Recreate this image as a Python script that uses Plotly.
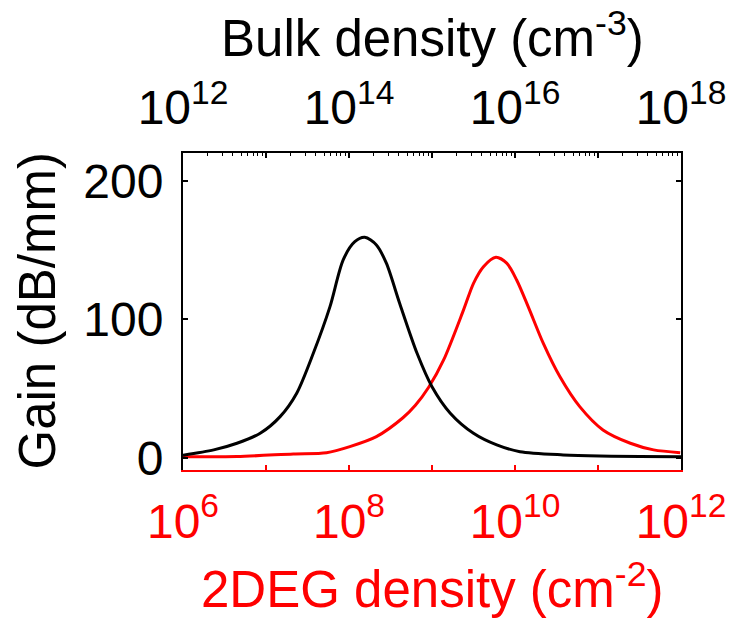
import plotly.graph_objects as go

# Gain of the bulk-doped structure vs. bulk carrier density (top axis)
bulk_log_density = [12.0, 12.37, 12.65, 12.93, 13.17, 13.37, 13.57, 13.77, 13.93,
                    14.07, 14.19, 14.33, 14.45, 14.61, 14.82, 15.0, 15.22, 15.5,
                    15.78, 16.06, 16.58, 17.02, 18.0]
bulk_gain = [2.0, 5.8, 10.6, 17.8, 29.8, 46.7, 75.5, 109, 142.9,
             156, 159.2, 153.7, 140.5, 111.6, 75.5, 51.4, 32.3, 17.8,
             9.4, 4.5, 2.2, 1.4, 0.9]

# Gain of the 2DEG structure vs. sheet carrier density (bottom axis)
sheet_log_density = [6.0, 6.65, 7.33, 7.73, 8.01, 8.33, 8.65, 8.8, 8.96, 9.14,
                     9.38, 9.5, 9.62, 9.77, 9.9, 10.02, 10.16, 10.34, 10.54,
                     10.78, 11.06, 11.39, 11.67, 11.99]
sheet_gain = [0.9, 1.0, 2.9, 3.8, 8.2, 15.4, 29.0, 38.0, 51.0, 70.7,
              106.8, 126, 138, 144.8, 140.5, 128.4, 109.0, 82.8, 58.7,
              37, 20.2, 10.6, 5.8, 3.8]

bottom_decades = [6, 7, 8, 9, 10, 11, 12]
top_decades = [12, 13, 14, 15, 16, 17, 18]
gain_ticks = [0, 100, 200]

FONT = "Liberation Sans, Arial, sans-serif"
RED = "#ff0000"


def decade_labels(decades):
    return [f"10<sup>{d}</sup>" if d % 2 == 0 else "" for d in decades]


fig = go.Figure()
fig.add_trace(go.Scatter(
    x=[10 ** v for v in sheet_log_density], y=sheet_gain,
    mode="lines", line=dict(color=RED, width=3, shape="spline", smoothing=0.8),
    xaxis="x", yaxis="y", showlegend=False))
fig.add_trace(go.Scatter(
    x=[10 ** v for v in bulk_log_density], y=bulk_gain,
    mode="lines", line=dict(color="black", width=3, shape="spline", smoothing=0.8),
    xaxis="x2", yaxis="y", showlegend=False))

fig.update_layout(
    width=740, height=624,
    margin=dict(l=183, r=59, t=153, b=154),
    paper_bgcolor="white", plot_bgcolor="white",
    font=dict(family=FONT, size=48, color="black"),
    xaxis=dict(
        type="log", range=[6, 12],
        tickmode="array",
        tickvals=[10 ** d for d in bottom_decades],
        ticktext=decade_labels(bottom_decades),
        ticks="inside", ticklen=5, tickwidth=1.5, tickcolor=RED,
        showline=True, linecolor=RED, linewidth=2,
        showgrid=False, zeroline=False,
        tickfont=dict(family=FONT, size=48, color=RED),
        ticklabelstandoff=8,
    ),
    xaxis2=dict(
        type="log", range=[12, 18], overlaying="x", side="top",
        tickmode="array",
        tickvals=[10 ** d for d in top_decades],
        ticktext=decade_labels(top_decades),
        ticks="inside", ticklen=5, tickwidth=1.5, tickcolor="black",
        minor=dict(ticks="inside", ticklen=3, tickwidth=1.2,
                   tickcolor="black", dtick="D1", showgrid=False),
        showline=True, linecolor="black", linewidth=2,
        showgrid=False, zeroline=False,
        tickfont=dict(family=FONT, size=48, color="black"),
        ticklabelstandoff=8,
    ),
    yaxis=dict(
        range=[-8.7, 220],
        tickmode="array", tickvals=gain_ticks,
        ticks="inside", ticklen=5, tickwidth=1.5, tickcolor="black",
        showline=True, linecolor="black", linewidth=2, mirror="ticks",
        showgrid=False, zeroline=False,
        tickfont=dict(family=FONT, size=48, color="black"),
        ticklabelstandoff=8,
    ),
    annotations=[
        dict(text="Bulk density (cm<sup>-3</sup>)", xref="paper", yref="paper",
             x=0.5, y=1, yshift=118, xanchor="center", yanchor="middle",
             showarrow=False, font=dict(family=FONT, size=51, color="black")),
        dict(text="2DEG density (cm<sup>-2</sup>)", xref="paper", yref="paper",
             x=0.5, y=0, yshift=-116, xanchor="center", yanchor="middle",
             showarrow=False, font=dict(family=FONT, size=51, color=RED)),
        dict(text="Gain (dB/mm)", xref="paper", yref="paper",
             x=0, y=0.5, xshift=-146, xanchor="center", yanchor="middle",
             textangle=-90, showarrow=False,
             font=dict(family=FONT, size=51, color="black")),
    ],
)

fig.write_html("out.html")
